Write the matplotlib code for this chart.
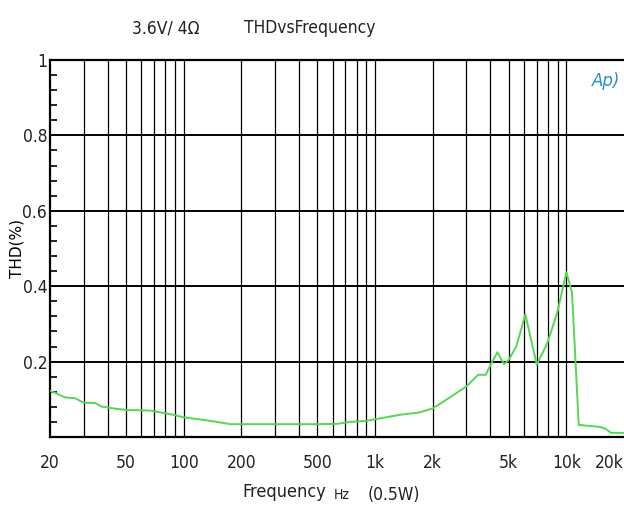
import matplotlib.pyplot as plt
from matplotlib.ticker import FixedLocator, NullFormatter

# THD vs frequency
freq = [20, 24, 27, 30, 34.5, 37, 44, 50, 67, 80, 90, 100, 120, 145, 176,
        200, 300, 500, 640, 705, 900, 1000, 1350, 1700, 2000, 2360, 3000,
        3460, 3790, 4020, 4360, 4720, 5000, 5470, 6100, 7000, 7950, 8950,
        10000, 10700, 11600, 14900, 16000, 17100, 20000]
thd = [0.123, 0.105, 0.103, 0.091, 0.090, 0.081, 0.075, 0.072, 0.070, 0.063,
       0.058, 0.052, 0.047, 0.041, 0.034, 0.034, 0.034, 0.034, 0.035, 0.039,
       0.043, 0.047, 0.059, 0.065, 0.076, 0.099, 0.134, 0.165, 0.165, 0.192,
       0.225, 0.193, 0.205, 0.240, 0.325, 0.192, 0.249, 0.329, 0.437, 0.383,
       0.032, 0.027, 0.022, 0.011, 0.011]

xticks = [20, 50, 100, 200, 500, 1000, 2000, 5000, 10000, 20000]
xticklabels = ["20", "50", "100", "200", "500", "1k", "2k", "5k", "10k", "20k"]
yticks = [0.2, 0.4, 0.6, 0.8, 1.0]
yticklabels = ["0.2", "0.4", "0.6", "0.8", "1"]

cond = dict(fontfamily="DejaVu Sans", fontstretch="condensed", color="#222222")

fig = plt.figure(figsize=(6.24, 5.14), dpi=100)
ax = fig.add_axes([0.0801, 0.1498, 0.9199, 0.7335])

# vertical grid at every 1..9 multiple
grid_f = [m * 10 ** e for e in range(1, 5) for m in range(1, 10)]
grid_f = [g for g in grid_f if 20 < g < 20000]
for g in grid_f:
    ax.axvline(g, color="black", lw=0.9, zorder=1)
for y in yticks[:-1]:
    ax.axhline(y, color="black", lw=1.4, zorder=1)

ax.plot(freq, thd, color="#55d855", lw=1.4, zorder=3)

ax.set_xscale("log")
ax.set_xlim(20, 20000)
ax.set_ylim(0, 1)
ax.set_xticks(xticks)
ax.set_xticklabels(xticklabels, fontsize=12.5, **cond)
ax.get_xticklabels()[-1].set_horizontalalignment("right")
ax.xaxis.set_minor_formatter(NullFormatter())
ax.tick_params(axis="x", which="both", length=0, pad=12)
ax.set_yticks(yticks)
ax.set_yticklabels(yticklabels, fontsize=12.5, **cond)
ax.yaxis.set_minor_locator(FixedLocator([i * 0.04 for i in range(1, 25)]))
ax.tick_params(axis="y", which="major", length=0, pad=2)
ax.tick_params(axis="y", which="minor", direction="in", length=5, width=1.2)

for s in ["left", "bottom", "top"]:
    ax.spines[s].set_linewidth(1.6)
ax.spines["right"].set_visible(False)

ax.set_ylabel("THD(%)", fontsize=11)
ax.yaxis.set_label_coords(-0.045, 0.5)

fig.text(0.265, 0.945, "3.6V/ 4\u03a9", fontsize=12.5, ha="center", va="center", **cond)
fig.text(0.497, 0.945, "THDvsFrequency", fontsize=12.5, ha="center", va="center", **cond)
fig.text(0.455, 0.043, "Frequency", fontsize=13, ha="center", va="center", **cond)
fig.text(0.548, 0.037, "Hz", fontsize=10, ha="center", va="center", **cond)
fig.text(0.632, 0.037, "(0.5W)", fontsize=12.5, ha="center", va="center", **cond)
fig.text(0.972, 0.843, "Ap)", fontsize=12, style="italic", color="#2a8fd0",
         ha="center", va="center")

plt.savefig("out.png", dpi=100)
